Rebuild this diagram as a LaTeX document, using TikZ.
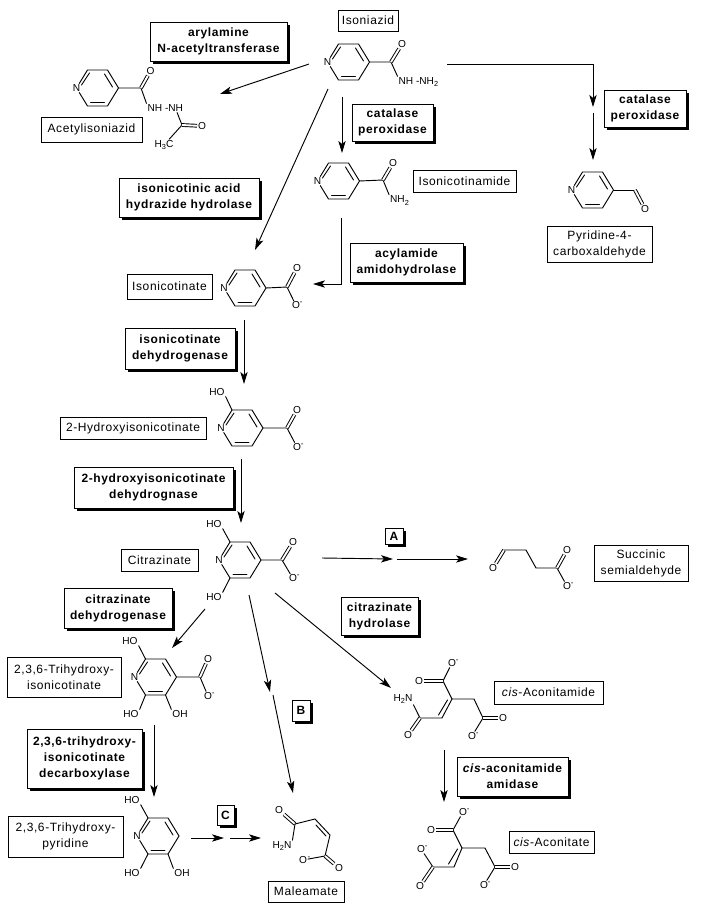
\documentclass[tikz,border=0pt]{standalone}
\usepackage{fontspec}
\setmainfont{Liberation Sans}
\newfontfamily\labfont[LetterSpace=5]{Liberation Sans}
\usetikzlibrary{arrows.meta,shadows}
\newcommand{\sbs}[1]{\raisebox{-1.8pt}{\fontsize{5.5}{6}\selectfont #1}}
\newcommand{\minus}{\rlap{\raisebox{3pt}{\fontsize{6}{6}\selectfont -}}}
\tikzset{
  bond/.style={line width=0.7pt,line cap=round},
  arr/.style={line width=0.7pt,-{Stealth[length=9pt,width=5.5pt,inset=2.2pt]}},
  atom/.style={inner sep=0.6pt,font=\fontsize{7.6}{8}\selectfont},
  plainlab/.style={draw=black,line width=0.75pt,fill=white,inner sep=0pt,align=center,
    font=\labfont\fontsize{9}{12}\selectfont},
  enzlab/.style={draw=black,line width=0.75pt,fill=white,inner sep=0pt,align=center,
    font=\labfont\bfseries\fontsize{9}{12}\selectfont,
    drop shadow={shadow xshift=2.6pt,shadow yshift=-2.6pt,fill=black,opacity=1}},
}
\newcommand{\lab}[7]{%
  \pgfmathsetmacro\cxx{(#3+#5)/2}\pgfmathsetmacro\cyy{(#4+#6)/2}%
  \pgfmathsetmacro\ww{(#5-#3)*0.75}\pgfmathsetmacro\hh{(#6-#4)*0.75}%
  \node[#1,minimum width=\ww pt,minimum height=\hh pt] (#2) at (\cxx,\cyy) {#7};}
% ring: prefix, centre x, centre y
\newcommand{\pyr}[3]{%
  \begin{scope}[shift={(#2,#3)}]
    \node[atom] (#1N) at (-21,0) {N};
    \coordinate (#1tl) at (-10,-18);
    \coordinate (#1tr) at (10,-18);
    \coordinate (#1r) at (21,0);
    \coordinate (#1br) at (10,18);
    \coordinate (#1bl) at (-10,18);
    \draw[bond] (#1N) -- (#1tl) -- (#1tr) -- (#1r) -- (#1br) -- (#1bl) -- (#1N);
    \draw[bond] (-16,-3) -- (-8,-15);
    \draw[bond] (7,-14) -- (15,-1);
    \draw[bond] (-7,14) -- (7,14);
  \end{scope}}
% double bond: two parallel lines
\newcommand{\dbl}[2]{\draw[bond,double,double distance=1.4pt,line cap=butt] (#1) -- (#2);}
\begin{document}
\begin{tikzpicture}[x=0.75pt,y=-0.75pt]
\path[fill=white,use as bounding box] (0,0) rectangle (702,910);

% ---------- Isoniazid
\pyr{a}{348.5}{62}
\coordinate (aC) at (391,62);
\node[atom] (aO) at (402,44) {O};
\node[atom,anchor=west] (aNH) at (397.5,82) {NH -NH\sbs{2}};
\draw[bond] (ar) -- (aC) -- (aNH.north west);
\dbl{aC}{aO}
% ---------- Acetylisoniazid
\pyr{b}{97.5}{88}
\coordinate (bC) at (141,88);
\node[atom] (bO) at (150.5,71) {O};
\node[atom,anchor=west] (bNH) at (146.5,108) {NH -NH};
\coordinate (bC2) at (182,125);
\node[atom] (bO2) at (202,126) {O};
\node[atom] (bMe) at (164,145) {H\sbs{3}C};
\draw[bond] (br) -- (bC) -- (bNH.north west);
\dbl{bC}{bO}
\draw[bond] (bNH.south east) ++(-7,0) -- (bC2) -- (bMe);
\dbl{bC2}{bO2}
% ---------- Isonicotinamide
\pyr{c}{338.5}{181}
\coordinate (cC) at (383,180);
\node[atom] (cO) at (393,163) {O};
\node[atom] (cNH) at (399.5,200.5) {NH\sbs{2}};
\draw[bond] (cr) -- (cC) -- (cNH.north west);
\dbl{cC}{cO}
% ---------- Pyridine-4-carboxaldehyde
\pyr{d}{592.5}{190}
\coordinate (dC) at (635,190);
\node[atom] (dO) at (645,209) {O};
\draw[bond] (dr) -- (dC);
\dbl{dC}{dO}
% ---------- Isonicotinate
\pyr{e}{245}{288}
\coordinate (eC) at (287,287);
\node[atom] (eO) at (297,268) {O};
\node[atom] (eOm) at (296,305.5) {O\minus};
\draw[bond] (er) -- (eC) -- (eOm);
\dbl{eC}{eO}
% ---------- 2-Hydroxyisonicotinate
\pyr{f}{242}{428}
\coordinate (fC) at (287,428);
\node[atom] (fHO) at (217,392) {HO};
\node[atom] (fO) at (297,410) {O};
\node[atom] (fOm) at (297,447) {O\minus};
\draw[bond] (ftl) -- (fHO.south east);
\draw[bond] (fr) -- (fC) -- (fOm);
\dbl{fC}{fO}
% ---------- Citrazinate
\pyr{g}{240}{560}
\coordinate (gC) at (282,560);
\node[atom] (gHO) at (214,524) {HO};
\node[atom] (gHOb) at (214,597) {HO};
\node[atom] (gO) at (293,542) {O};
\node[atom] (gOm) at (293,578.5) {O\minus};
\draw[bond] (gtl) -- (gHO.south east);
\draw[bond] (gbl) -- (gHOb.north east);
\draw[bond] (gr) -- (gC) -- (gOm);
\dbl{gC}{gO}
% ---------- 2,3,6-Trihydroxyisonicotinate
\pyr{h}{155.5}{677}
\coordinate (hC) at (200,677);
\node[atom] (hHO) at (130,641) {HO};
\node[atom] (hHOb) at (131,714) {HO};
\node[atom] (hOH) at (180,714) {OH};
\node[atom] (hO) at (208,659) {O};
\node[atom] (hOm) at (208,696) {O\minus};
\draw[bond] (htl) -- (hHO.south east);
\draw[bond] (hbl) -- (hHOb.north east);
\draw[bond] (hbr) -- (hOH.north west);
\draw[bond] (hr) -- (hC) -- (hOm);
\dbl{hC}{hO}
% ---------- 2,3,6-Trihydroxypyridine
\pyr{i}{158}{836}
\node[atom] (iHO) at (132,800) {HO};
\node[atom] (iHOb) at (132,873) {HO};
\node[atom] (iOH) at (182,873) {OH};
\draw[bond] (itl) -- (iHO.south east);
\draw[bond] (ibl) -- (iHOb.north east);
\draw[bond] (ibr) -- (iOH.north west);
% ---------- Maleamate
\node[atom] (mO) at (279,810) {O};
\coordinate (mC) at (295,824);
\coordinate (mCa) at (315,819);
\coordinate (mCb) at (330,835);
\coordinate (mCc) at (325,856);
\node[atom] (mOb) at (339,868) {O};
\node[atom] (mOm) at (303,860) {O\rlap{\raisebox{3pt}{\fontsize{6}{6}\selectfont\hspace{0.5pt}-}}};
\node[atom] (mN) at (282,846) {H\sbs{2}N};
\dbl{mC}{mO}
\draw[bond] (mN.north east) -- (mC) -- (mCa) -- (mCb) -- (mCc) -- (mOm);
\draw[bond] (316,825) -- (326,836);
\dbl{mCc}{mOb}
% ---------- Succinic semialdehyde
\node[atom] (sO) at (493,568) {O};
\coordinate (sC1) at (504,550);
\coordinate (sC2) at (526,550);
\coordinate (sC3) at (536,568);
\coordinate (sC4) at (557,568);
\node[atom] (sO2) at (567,550) {O};
\node[atom] (sOm) at (567,586) {O\minus};
\dbl{sC1}{sO}
\draw[bond] (sC1) -- (sC2) -- (sC3) -- (sC4) -- (sOm);
\dbl{sC4}{sO2}
% ---------- cis-Aconitamide
\node[atom] (tOm) at (452,663) {O\minus};
\coordinate (tC1) at (443,681);
\node[atom] (tO1) at (419,681) {O};
\coordinate (tC2) at (452,699);
\coordinate (tCH2) at (474,699);
\coordinate (tC3) at (483,718);
\node[atom] (tO3) at (503,718) {O};
\node[atom] (tO3m) at (472,736) {O\minus};
\coordinate (tC4) at (442,718);
\coordinate (tC5) at (420,718);
\node[atom] (tO5) at (408,735) {O};
\node[atom] (tN) at (403,699) {H\sbs{2}N};
\draw[bond] (tOm) -- (tC1) -- (tC2) -- (tCH2) -- (tC3) -- (tO3m);
\dbl{tC1}{tO1}
\dbl{tC3}{tO3}
\draw[bond] (tC2) -- (tC4) -- (tC5) -- (tN.south east);
\draw[bond] (447.5,700) -- (438.5,715);
\dbl{tC5}{tO5}
% ---------- cis-Aconitate
\node[atom] (uOm) at (463,812) {O\minus};
\coordinate (uC1) at (453,830);
\node[atom] (uO1) at (431,830) {O};
\coordinate (uC2) at (462,848);
\coordinate (uCH2) at (485,848);
\coordinate (uC3) at (495,867);
\node[atom] (uO3) at (515,867) {O};
\node[atom] (uO3m) at (484,885) {O\minus};
\coordinate (uC4) at (454,867);
\coordinate (uC5) at (433,867);
\node[atom] (uO5) at (420,886) {O};
\node[atom] (uO5m) at (421,849) {O\minus};
\draw[bond] (uOm) -- (uC1) -- (uC2) -- (uCH2) -- (uC3) -- (uO3m);
\dbl{uC1}{uO1}
\dbl{uC3}{uO3}
\draw[bond] (uC2) -- (uC4) -- (uC5) -- (uO5m);
\draw[bond] (457.5,849) -- (448.5,864);
\dbl{uC5}{uO5}

% ---------- plain labels
\lab{plainlab}{lIsoniazid}{338}{10}{398}{31}{Isoniazid}
\lab{plainlab}{lAcetyl}{41}{117}{142}{142}{Acetylisoniazid}
\lab{plainlab}{lNicotinamide}{413}{170}{516}{192}{Isonicotinamide}
\lab{plainlab}{lAldehyde}{547}{226}{652}{262}{Pyridine-4-\\carboxaldehyde}
\lab{plainlab}{lIsonicotinate}{127}{274}{212}{299}{Isonicotinate}
\lab{plainlab}{lHydroxy}{60}{417}{206}{439}{2-Hydroxyisonicotinate}
\lab{plainlab}{lCitrazinate}{121}{549}{198}{571}{Citrazinate}
\lab{plainlab}{lTriIso}{7}{657}{121}{697}{2,3,6-Trihydroxy-\\isonicotinate}
\lab{plainlab}{lTriPyr}{8}{816}{123}{857}{2,3,6-Trihydroxy-\\pyridine}
\lab{plainlab}{lMaleamate}{268}{881}{344}{902}{Maleamate}
\lab{plainlab}{lSuccinic}{594}{545}{688}{581}{Succinic\\semialdehyde}
\lab{plainlab}{lAconitamide}{494}{681}{603}{704}{\textit{cis}-Aconitamide}
\lab{plainlab}{lAconitate}{509}{831}{594}{853}{\textit{cis}-Aconitate}

% ---------- enzyme labels
\lab{enzlab}{eArylamine}{150}{22}{287}{61}{arylamine\\N-acetyltransferase}
\lab{enzlab}{eCatalaseA}{352}{104}{433}{141}{catalase\\peroxidase}
\lab{enzlab}{eHydrazide}{119}{178}{259}{217}{isonicotinic acid\\hydrazide hydrolase}
\lab{enzlab}{eAcylamide}{350}{243}{463}{282}{acylamide\\amidohydrolase}
\lab{enzlab}{eCatalaseB}{604}{90}{686}{127}{catalase\\peroxidase}
\lab{enzlab}{eIsoDehyd}{125}{328}{235}{369}{isonicotinate\\dehydrogenase}
\lab{enzlab}{eHydDehyd}{74}{467}{233}{508}{2-hydroxyisonicotinate\\dehydrognase}
\lab{enzlab}{eCitDehyd}{64}{588}{172}{628}{citrazinate\\dehydrogenase}
\lab{enzlab}{eCitHydro}{341}{597}{418}{635}{citrazinate\\hydrolase}
\lab{enzlab}{eAmidase}{457}{757}{568}{796}{\textit{cis}-aconitamide\\amidase}
\lab{enzlab}{eDecarb}{27}{729}{142}{788}{2,3,6-trihydroxy-\\isonicotinate\\decarboxylase}
\lab{enzlab}{eA}{385}{528}{403}{544}{A}
\lab{enzlab}{eB}{292}{700}{310}{721}{B}
\lab{enzlab}{eC}{217}{805}{234}{825}{C}

% ---------- connectors
\coordinate (p1s) at (309,64);   \coordinate (p1e) at (220,94);
\coordinate (p2s) at (342,97);   \coordinate (p2e) at (342,153);
\coordinate (p3s) at (328,89);   \coordinate (p3e) at (255,250);
\coordinate (p4s) at (341,218);  \coordinate (p4c) at (341,284); \coordinate (p4e) at (313,284);
\coordinate (p5s) at (447,64);   \coordinate (p5c) at (593,64);  \coordinate (p5e) at (593,107);
\coordinate (p6s) at (593,113);  \coordinate (p6e) at (593,160);
\coordinate (p7s) at (244,320);  \coordinate (p7e) at (244,384);
\coordinate (p8s) at (241,459);  \coordinate (p8e) at (241,523);
\coordinate (p9s) at (322,558);  \coordinate (p9e) at (393,559);
\coordinate (p10s) at (397,559); \coordinate (p10e) at (468,559);
\coordinate (p11s) at (205,609); \coordinate (p11e) at (172,648);
\coordinate (p12s) at (249,595); \coordinate (p12e) at (270,692);
\coordinate (p13s) at (273,695); \coordinate (p13e) at (293,793);
\coordinate (p14s) at (275,593); \coordinate (p14e) at (391,688);
\coordinate (p15s) at (154,725); \coordinate (p15e) at (154,797);
\coordinate (p16s) at (191,838); \coordinate (p16e) at (224,838);
\coordinate (p17s) at (230,838); \coordinate (p17e) at (261,838);
\coordinate (p18s) at (444,750); \coordinate (p18e) at (444,802);
\draw[arr] (p1s) -- (p1e);
\draw[arr] (p2s) -- (p2e);
\draw[arr] (p3s) -- (p3e);
\draw[arr] (p4s) -- (p4c) -- (p4e);
\draw[arr] (p5s) -- (p5c) -- (p5e);
\draw[arr] (p6s) -- (p6e);
\draw[arr] (p7s) -- (p7e);
\draw[arr] (p8s) -- (p8e);
\draw[arr] (p9s) -- (p9e);
\draw[arr] (p10s) -- (p10e);
\draw[arr] (p11s) -- (p11e);
\draw[arr] (p12s) -- (p12e);
\draw[arr] (p13s) -- (p13e);
\draw[arr] (p14s) -- (p14e);
\draw[arr] (p15s) -- (p15e);
\draw[arr] (p16s) -- (p16e);
\draw[arr] (p17s) -- (p17e);
\draw[arr] (p18s) -- (p18e);
\end{tikzpicture}
\end{document}
